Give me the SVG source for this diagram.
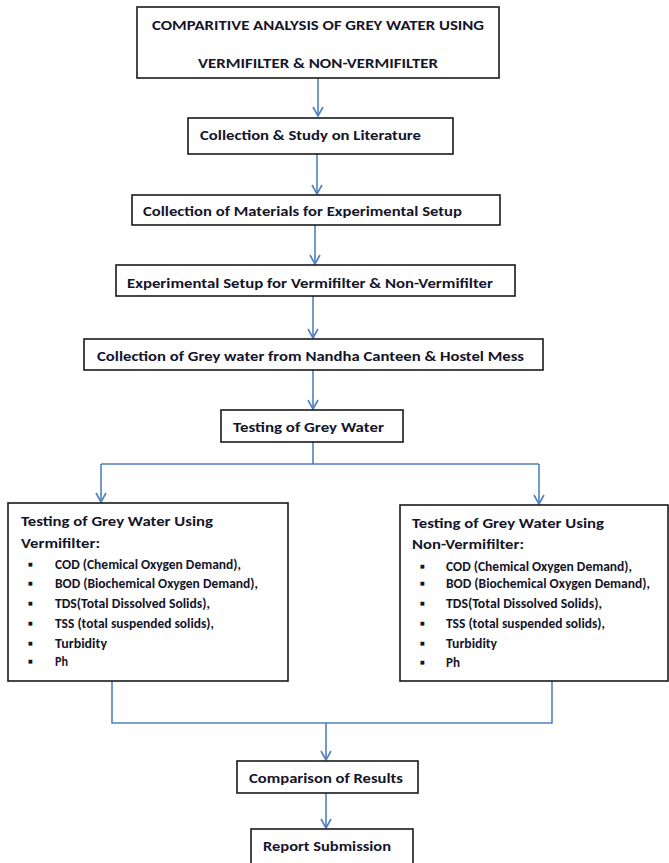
<svg xmlns="http://www.w3.org/2000/svg" width="669" height="863" viewBox="0 0 669 863">
<defs>
<style>
.box{fill:#fff;stroke:#1a1a1a;stroke-width:1.6}
.t{font-family:Calibri,Carlito,Lato,"Liberation Sans",sans-serif;font-weight:bold;fill:#15152a;font-size:14px}
.s{font-size:13.5px}
.b{font-family:"DejaVu Sans",sans-serif;font-size:5px;fill:#15152a}
.c{fill:none;stroke:#4f81bd;stroke-width:1.6}
</style>
<marker id="ah" viewBox="0 0 12 12" refX="11" refY="6" markerWidth="12" markerHeight="12" markerUnits="userSpaceOnUse" orient="auto">
<path d="M2,1 L11,6 L2,11" fill="none" stroke="#4f81bd" stroke-width="1.6"/>
</marker>
</defs>
<rect width="669" height="863" fill="#fff"/>
<g id="connectors">
<line class="c" x1="318" y1="78" x2="318" y2="116" marker-end="url(#ah)"/>
<line class="c" x1="317" y1="154" x2="317" y2="194" marker-end="url(#ah)"/>
<line class="c" x1="315" y1="225" x2="315" y2="264" marker-end="url(#ah)"/>
<line class="c" x1="313" y1="296" x2="313" y2="338" marker-end="url(#ah)"/>
<line class="c" x1="313" y1="370" x2="313" y2="409" marker-end="url(#ah)"/>
<line class="c" x1="313" y1="442" x2="313" y2="464"/>
<line class="c" x1="101" y1="464" x2="539" y2="464"/>
<line class="c" x1="101" y1="464" x2="101" y2="502" marker-end="url(#ah)"/>
<line class="c" x1="539" y1="464" x2="539" y2="504" marker-end="url(#ah)"/>
<polyline class="c" points="112,681 112,723 552,723 552,681"/>
<line class="c" x1="326" y1="723" x2="326" y2="760" marker-end="url(#ah)"/>
<line class="c" x1="326" y1="793" x2="326" y2="828" marker-end="url(#ah)"/>
</g>
<g id="n1">
<rect class="box" x="137" y="7" width="362" height="71"/>
<text class="t" x="318" y="30" text-anchor="middle" textLength="332" lengthAdjust="spacingAndGlyphs">COMPARITIVE ANALYSIS OF GREY WATER USING</text>
<text class="t" x="318" y="68" text-anchor="middle" textLength="240" lengthAdjust="spacingAndGlyphs">VERMIFILTER &amp; NON-VERMIFILTER</text>
</g>
<g id="n2">
<rect class="box" x="188" y="118" width="265" height="36"/>
<text class="t" x="200" y="140" textLength="221" lengthAdjust="spacingAndGlyphs">Collection &amp; Study on Literature</text>
</g>
<g id="n3">
<rect class="box" x="132" y="195" width="368" height="30"/>
<text class="t" x="143" y="216" textLength="319" lengthAdjust="spacingAndGlyphs">Collection of Materials for Experimental Setup</text>
</g>
<g id="n4">
<rect class="box" x="116" y="265" width="399" height="31"/>
<text class="t" x="127" y="288" textLength="366" lengthAdjust="spacingAndGlyphs">Experimental Setup for Vermifilter &amp; Non-Vermifilter</text>
</g>
<g id="n5">
<rect class="box" x="84" y="339" width="459" height="31"/>
<text class="t" x="97" y="361" textLength="427" lengthAdjust="spacingAndGlyphs">Collection of Grey water from Nandha Canteen &amp; Hostel Mess</text>
</g>
<g id="n6">
<rect class="box" x="221" y="410" width="182" height="32"/>
<text class="t" x="233" y="432" textLength="151" lengthAdjust="spacingAndGlyphs">Testing of Grey Water</text>
</g>
<g id="n7">
<rect class="box" x="8" y="503" width="280" height="178"/>
<text class="t" x="21" y="526" textLength="192" lengthAdjust="spacingAndGlyphs">Testing of Grey Water Using</text>
<text class="t" x="21" y="548" textLength="79" lengthAdjust="spacingAndGlyphs">Vermifilter:</text>
<g class="b">
<text x="28" y="566">■</text><text x="28" y="585">■</text><text x="28" y="605">■</text><text x="28" y="625">■</text><text x="28" y="645">■</text><text x="28" y="663">■</text>
</g>
<g class="t s">
<text x="55" y="569" textLength="186" lengthAdjust="spacingAndGlyphs">COD (Chemical Oxygen Demand),</text>
<text x="55" y="588" textLength="203" lengthAdjust="spacingAndGlyphs">BOD (Biochemical Oxygen Demand),</text>
<text x="55" y="608" textLength="155" lengthAdjust="spacingAndGlyphs">TDS(Total Dissolved Solids),</text>
<text x="55" y="628" textLength="159" lengthAdjust="spacingAndGlyphs">TSS (total suspended solids),</text>
<text x="55" y="648" textLength="52" lengthAdjust="spacingAndGlyphs">Turbidity</text>
<text x="55" y="666" textLength="13" lengthAdjust="spacingAndGlyphs">Ph</text>
</g>
</g>
<g id="n8">
<rect class="box" x="400" y="505" width="268" height="176"/>
<text class="t" x="412" y="528" textLength="192" lengthAdjust="spacingAndGlyphs">Testing of Grey Water Using</text>
<text class="t" x="412" y="549" textLength="112" lengthAdjust="spacingAndGlyphs">Non-Vermifilter:</text>
<g class="b">
<text x="420" y="568">■</text><text x="420" y="585">■</text><text x="420" y="605">■</text><text x="420" y="625">■</text><text x="420" y="645">■</text><text x="420" y="664">■</text>
</g>
<g class="t s">
<text x="446" y="571" textLength="186" lengthAdjust="spacingAndGlyphs">COD (Chemical Oxygen Demand),</text>
<text x="446" y="588" textLength="204" lengthAdjust="spacingAndGlyphs">BOD (Biochemical Oxygen Demand),</text>
<text x="446" y="608" textLength="156" lengthAdjust="spacingAndGlyphs">TDS(Total Dissolved Solids),</text>
<text x="446" y="628" textLength="159" lengthAdjust="spacingAndGlyphs">TSS (total suspended solids),</text>
<text x="446" y="648" textLength="51" lengthAdjust="spacingAndGlyphs">Turbidity</text>
<text x="446" y="667" textLength="14" lengthAdjust="spacingAndGlyphs">Ph</text>
</g>
</g>
<g id="n9">
<rect class="box" x="237" y="761" width="181" height="32"/>
<text class="t" x="249" y="783" textLength="154" lengthAdjust="spacingAndGlyphs">Comparison of Results</text>
</g>
<g id="n10">
<rect class="box" x="251" y="829" width="162" height="40"/>
<text class="t" x="263" y="851" textLength="128" lengthAdjust="spacingAndGlyphs">Report Submission</text>
</g>
</svg>
